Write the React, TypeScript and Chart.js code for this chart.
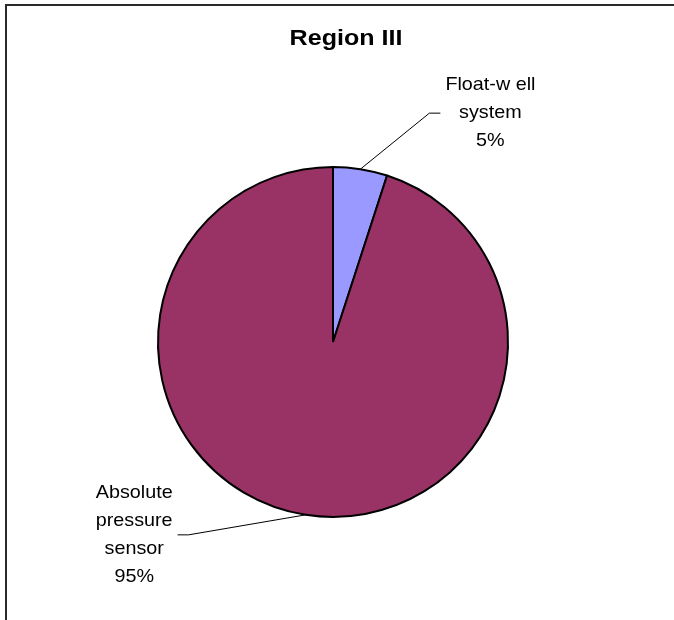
import React, { useEffect, useRef } from "react";
import { Chart, registerables } from "chart.js";

Chart.register(...registerables);

const TITLE = "Region III";
const CATEGORY_LINES: string[][] = [
  ["Float-w ell", "system"],
  ["Absolute", "pressure", "sensor"],
];
const VALUES: number[] = [5, 95];
const COLORS: string[] = ["#9999FF", "#993366"];

// leader line shape for each slice: elbow offset from the slice edge, then a short horizontal run
const LEADER_ELBOW: [number, number][] = [
  [69, -56],
  [-117, 20],
];
const LEADER_RUN = 11;

const W = 674;
const H = 620;
const FONT = '"Liberation Sans", Arial, sans-serif';

const decorations = {
  id: "decorations",
  beforeDraw(chart: Chart) {
    const ctx = chart.ctx;
    ctx.save();
    ctx.fillStyle = "#ffffff";
    ctx.fillRect(0, 0, W, H);
    // outer frame (runs off the right and bottom edges)
    ctx.fillStyle = "#2a2a2a";
    ctx.fillRect(5, 4, W, 2);
    ctx.fillRect(5, 4, 2, H);
    ctx.restore();
  },
  afterDraw(chart: Chart) {
    const ctx = chart.ctx;
    ctx.save();
    // title
    ctx.font = `bold 22px ${FONT}`;
    ctx.fillStyle = "#000";
    ctx.textAlign = "center";
    ctx.textBaseline = "alphabetic";
    ctx.translate(346, 45);
    ctx.scale(1.14, 1);
    ctx.fillText(TITLE, 0, 0);
    ctx.restore();

    const meta = chart.getDatasetMeta(0);
    const total = VALUES.reduce((a, b) => a + b, 0);
    meta.data.forEach((el: any, i: number) => {
      const { x, y, startAngle, endAngle, outerRadius } = el.getProps(
        ["x", "y", "startAngle", "endAngle", "outerRadius"],
        true
      );
      const mid = (startAngle + endAngle) / 2;
      const ax = x + Math.cos(mid) * outerRadius;
      const ay = y + Math.sin(mid) * outerRadius;
      const [dx, dy] = LEADER_ELBOW[i];
      const ex = ax + dx;
      const ey = ay + dy;
      const dir = dx >= 0 ? 1 : -1;
      const tx = ex + dir * LEADER_RUN;

      ctx.save();
      ctx.strokeStyle = "#000";
      ctx.lineWidth = 1;
      ctx.beginPath();
      ctx.moveTo(ax, ay);
      ctx.lineTo(ex, ey);
      ctx.lineTo(tx, ey);
      ctx.stroke();

      const lines = [
        ...CATEGORY_LINES[i],
        `${Math.round((VALUES[i] / total) * 100)}%`,
      ];
      ctx.font = `19px ${FONT}`;
      ctx.fillStyle = "#000";
      ctx.textAlign = "center";
      ctx.textBaseline = "middle";
      const sx = 1.04;
      const maxW = Math.max(...lines.map((l) => ctx.measureText(l).width)) * sx;
      const cx = tx + dir * (maxW / 2 + 5);
      const lh = 28;
      const top = ey - ((lines.length - 1) * lh) / 2;
      lines.forEach((l, k) => {
        ctx.save();
        ctx.translate(cx, top + k * lh);
        ctx.scale(sx, 1);
        ctx.fillText(l, 0, 0);
        ctx.restore();
      });
      ctx.restore();
    });
  },
};

export default function App() {
  const ref = useRef<HTMLCanvasElement | null>(null);
  useEffect(() => {
    if (!ref.current) return;
    const chart = new Chart(ref.current, {
      type: "pie",
      data: {
        labels: CATEGORY_LINES.map((l) => l.join(" ")),
        datasets: [
          {
            data: VALUES,
            backgroundColor: COLORS,
            borderColor: "#000",
            borderWidth: 2,
          },
        ],
      },
      options: {
        responsive: false,
        animation: false,
        radius: 175,
        layout: { padding: { left: 158, right: 166, top: 167, bottom: 103 } },
        plugins: {
          legend: { display: false },
          title: { display: false },
          tooltip: { enabled: false },
        },
      } as any,
      plugins: [decorations],
    });
    return () => chart.destroy();
  }, []);
  return (
    <div style={{ position: "absolute", left: 0, top: 0, width: W, height: H }}>
      <canvas ref={ref} width={W} height={H} style={{ display: "block" }} />
    </div>
  );
}
